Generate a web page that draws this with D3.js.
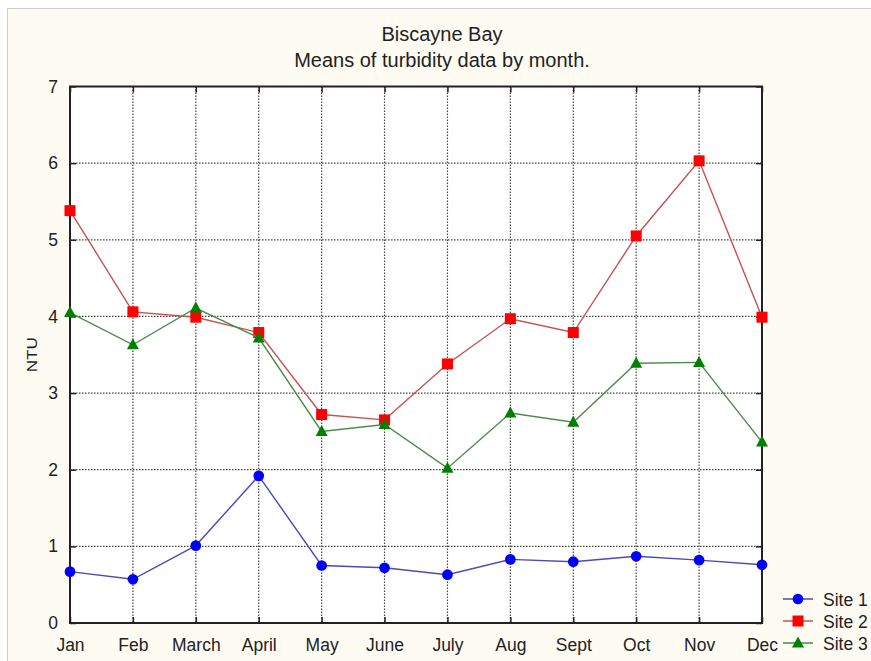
<!DOCTYPE html>
<html>
<head>
<meta charset="utf-8">
<script src="https://cdn.jsdelivr.net/npm/d3@7"></script>
<style>
  body { margin: 0; background: #ffffff; }
  text { font-family: "Liberation Sans", Arial, sans-serif; fill: #222; }
</style>
</head>
<body>
<div id="chart"></div>
<script>
const width = 871;
const height = 661;

// data
const months = ['Jan', 'Feb', 'March', 'April', 'May', 'June', 'July', 'Aug', 'Sept', 'Oct', 'Nov', 'Dec'];
const site1 = [0.67, 0.57, 1.01, 1.92, 0.75, 0.72, 0.63, 0.83, 0.80, 0.87, 0.82, 0.76];
const site2 = [5.38, 4.06, 3.99, 3.79, 2.72, 2.65, 3.38, 3.97, 3.79, 5.05, 6.03, 3.99];
const site3 = [4.05, 3.63, 4.11, 3.72, 2.50, 2.59, 2.02, 2.74, 2.62, 3.39, 3.40, 2.36];
const yTicks = [0, 1, 2, 3, 4, 5, 6, 7];
const seriesNames = ['Site 1', 'Site 2', 'Site 3'];

const series = [
  { name: seriesNames[0], values: site1, line: '#4a4ab8', fill: '#0000ff', shape: 'circle' },
  { name: seriesNames[1], values: site2, line: '#c85050', fill: '#ff0000', shape: 'square' },
  { name: seriesNames[2], values: site3, line: '#4a8a4a', fill: '#008000', shape: 'triangle' }
];

const pLeft = 70, pRight = 762, pTop = 86.5, pBottom = 623;

const svg = d3.select('#chart')
  .append('svg')
  .attr('width', width)
  .attr('height', height);

// cream panel
svg.append('rect')
  .attr('x', 7.5).attr('y', 8.5)
  .attr('width', width).attr('height', height)
  .style('fill', '#fefbf3')
  .style('stroke', '#cfcfcf');

const x = d3.scalePoint().domain(months).range([pLeft, pRight]);
const y = d3.scaleLinear().domain([0, 7]).range([pBottom, pTop]);

// plot background
svg.append('rect')
  .attr('x', pLeft).attr('y', pTop)
  .attr('width', pRight - pLeft).attr('height', pBottom - pTop)
  .style('fill', '#ffffff');

// grid
svg.append('g')
  .selectAll('line')
  .data(months.slice(1, -1))
  .join('line')
  .attr('x1', d => x(d)).attr('x2', d => x(d))
  .attr('y1', pTop).attr('y2', pBottom)
  .style('stroke', '#444').style('stroke-width', 1.2)
  .style('stroke-dasharray', '1.5,1.5');

svg.append('g')
  .selectAll('line')
  .data(yTicks.slice(1, -1))
  .join('line')
  .attr('x1', pLeft).attr('x2', pRight)
  .attr('y1', d => y(d)).attr('y2', d => y(d))
  .style('stroke', '#444').style('stroke-width', 1.2)
  .style('stroke-dasharray', '1.5,1.5');

// axes with inward ticks
const yAxisL = d3.axisLeft(y).tickValues(yTicks).tickFormat(d3.format('d')).tickSize(-6).tickPadding(12);
const yAxisR = d3.axisRight(y).tickValues(yTicks).tickSize(-6).tickFormat('');
const xAxisB = d3.axisBottom(x).tickSize(-6).tickPadding(16);
const xAxisT = d3.axisTop(x).tickSize(-6).tickFormat('');

function styleAxis(g) {
  g.select('.domain').remove();
  g.selectAll('.tick line').style('stroke', '#222').style('stroke-width', 1.5);
  g.selectAll('.tick text')
    .style('font-family', '"Liberation Sans", Arial, sans-serif')
    .style('font-size', '17.5px')
    .style('fill', '#222');
}

svg.append('g').attr('transform', 'translate(' + pLeft + ',0)').call(yAxisL).call(styleAxis);
svg.append('g').attr('transform', 'translate(' + pRight + ',0)').call(yAxisR).call(styleAxis);
svg.append('g').attr('transform', 'translate(0,' + pBottom + ')').call(xAxisB).call(styleAxis);
svg.append('g').attr('transform', 'translate(0,' + pTop + ')').call(xAxisT).call(styleAxis);

// frame
svg.append('rect')
  .attr('x', pLeft).attr('y', pTop)
  .attr('width', pRight - pLeft).attr('height', pBottom - pTop)
  .style('fill', 'none')
  .style('stroke', '#222')
  .style('stroke-width', 2);

// marker helper
function marker(sel, shape, fill) {
  if (shape === 'circle') {
    return sel.append('path').attr('d', d3.symbol(d3.symbolCircle, 90)()).style('fill', fill);
  }
  if (shape === 'square') {
    return sel.append('rect')
      .attr('x', -5.5).attr('y', -5.5).attr('width', 11).attr('height', 11)
      .style('fill', fill);
  }
  return sel.append('path').attr('d', 'M0,-6.5L6,4.5L-6,4.5Z').style('fill', fill);
}

const line = d3.line()
  .x((d, i) => x(months[i]))
  .y(d => y(d));

series.forEach(s => {
  svg.append('path')
    .datum(s.values)
    .attr('d', line)
    .style('fill', 'none')
    .style('stroke', s.line)
    .style('stroke-width', 1.4);

  svg.append('g')
    .selectAll('g')
    .data(s.values)
    .join('g')
    .attr('transform', (d, i) => 'translate(' + x(months[i]) + ',' + y(d) + ')')
    .each(function() { marker(d3.select(this), s.shape, s.fill); });
});

// titles
svg.append('text')
  .attr('x', 442).attr('y', 41)
  .style('font-size', '20px')
  .style('text-anchor', 'middle')
  .text('Biscayne Bay');
svg.append('text')
  .attr('x', 442).attr('y', 66.5)
  .style('font-size', '20px')
  .style('text-anchor', 'middle')
  .text('Means of turbidity data by month.');

// y label
svg.append('text')
  .attr('transform', 'translate(37,' + ((pTop + pBottom) / 2) + ') rotate(-90)')
  .style('font-size', '14px')
  .style('text-anchor', 'middle')
  .attr('textLength', 35)
  .attr('lengthAdjust', 'spacingAndGlyphs')
  .text('NTU');

// legend
const legend = svg.append('g')
  .selectAll('g')
  .data(series)
  .join('g')
  .attr('transform', (d, i) => 'translate(798,' + (599 + i * 22) + ')');

legend.append('line')
  .attr('x1', -15).attr('x2', 15)
  .style('stroke', d => d.line)
  .style('stroke-width', 1.5);

legend.each(function(d) { marker(d3.select(this), d.shape, d.fill); });

legend.append('text')
  .attr('x', 25).attr('y', 6.5)
  .style('font-size', '17.5px')
  .text(d => d.name);
</script>
</body>
</html>
